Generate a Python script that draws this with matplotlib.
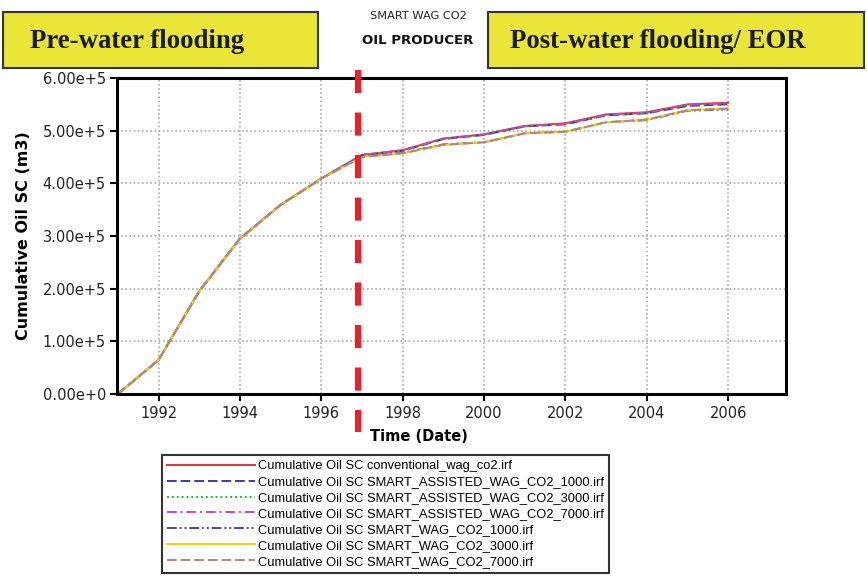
import matplotlib
matplotlib.use("Agg")
import matplotlib.pyplot as plt
from matplotlib.patches import Rectangle

# yearly points (cumulative oil, m3)
years = [1991.0, 1992, 1993, 1994, 1995, 1996, 1997, 1998, 1999, 2000,
         2001, 2002, 2003, 2004, 2005, 2006]

conventional = [0, 0.645e5, 1.95e5, 2.95e5, 3.59e5, 4.09e5, 4.54e5, 4.63e5, 4.85e5, 4.93e5,
                5.09e5, 5.14e5, 5.31e5, 5.35e5, 5.50e5, 5.53e5]
assisted_1000 = [0, 0.645e5, 1.95e5, 2.95e5, 3.59e5, 4.09e5, 4.53e5, 4.62e5, 4.84e5, 4.92e5,
                 5.08e5, 5.12e5, 5.29e5, 5.33e5, 5.47e5, 5.50e5]
assisted_3000 = [0, 0.645e5, 1.95e5, 2.95e5, 3.59e5, 4.09e5, 4.54e5, 4.62e5, 4.85e5, 4.92e5,
                 5.08e5, 5.13e5, 5.30e5, 5.34e5, 5.49e5, 5.52e5]
assisted_7000 = [0, 0.645e5, 1.95e5, 2.95e5, 3.59e5, 4.09e5, 4.54e5, 4.63e5, 4.85e5, 4.93e5,
                 5.09e5, 5.13e5, 5.30e5, 5.34e5, 5.49e5, 5.52e5]
smart_1000 = [0, 0.645e5, 1.95e5, 2.95e5, 3.59e5, 4.09e5, 4.51e5, 4.58e5, 4.74e5, 4.78e5,
              4.95e5, 4.98e5, 5.16e5, 5.20e5, 5.38e5, 5.40e5]
smart_3000 = [0, 0.645e5, 1.95e5, 2.95e5, 3.59e5, 4.09e5, 4.50e5, 4.57e5, 4.73e5, 4.78e5,
              4.95e5, 4.98e5, 5.16e5, 5.21e5, 5.39e5, 5.42e5]
smart_7000 = [0, 0.645e5, 1.95e5, 2.95e5, 3.59e5, 4.09e5, 4.50e5, 4.57e5, 4.73e5, 4.78e5,
              4.95e5, 4.98e5, 5.16e5, 5.21e5, 5.39e5, 5.42e5]

labels = [
    "Cumulative Oil SC conventional_wag_co2.irf",
    "Cumulative Oil SC SMART_ASSISTED_WAG_CO2_1000.irf",
    "Cumulative Oil SC SMART_ASSISTED_WAG_CO2_3000.irf",
    "Cumulative Oil SC SMART_ASSISTED_WAG_CO2_7000.irf",
    "Cumulative Oil SC SMART_WAG_CO2_1000.irf",
    "Cumulative Oil SC SMART_WAG_CO2_3000.irf",
    "Cumulative Oil SC SMART_WAG_CO2_7000.irf",
]
series = [conventional, assisted_1000, assisted_3000, assisted_7000,
          smart_1000, smart_3000, smart_7000]
colors = ["#e8303a", "#3a3aa8", "#30b040", "#c848b8", "#4848a8", "#f2d200", "#b08878"]
styles = ["-", (0, (5, 2)), (0, (1, 1.5)), (0, (5, 2, 1, 2)), (0, (5, 1.5, 1, 1.5, 1, 1.5)),
          "-", (0, (5, 2))]

water_flood_end = 1996.9
x_ticks = [1992, 1994, 1996, 1998, 2000, 2002, 2004, 2006]
y_ticks = [0, 1e5, 2e5, 3e5, 4e5, 5e5, 6e5]
y_tick_labels = ["0.00e+0", "1.00e+5", "2.00e+5", "3.00e+5", "4.00e+5", "5.00e+5", "6.00e+5"]

fig = plt.figure(figsize=(8.67, 5.79), dpi=100)
ax = fig.add_axes([117 / 867, 1 - 394 / 579, 669 / 867, 316 / 579])

handles = []
for ys, c, ls, lab in zip(series, colors, styles, labels):
    h, = ax.plot(years, ys, color=c, linestyle=ls, linewidth=1.4, label=lab)
    handles.append(h)

ax.set_xlim(1990.98, 2007.42)
ax.set_ylim(0, 6e5)
ax.set_xticks(x_ticks)
ax.set_xticklabels([str(t) for t in x_ticks])
ax.set_yticks(y_ticks)
ax.set_yticklabels(y_tick_labels)
ax.tick_params(labelsize=10.5, length=5, width=1.5, colors="black", labelcolor="#222222")
ax.tick_params(axis="y", pad=3)
ax.grid(True, color="#aaaaaa", linestyle=(0, (1, 1.5)), linewidth=1.2)
for s in ax.spines.values():
    s.set_linewidth(2.2)
    s.set_color("black")

# end of water flooding marker, runs past the frame
ax.plot([water_flood_end, water_flood_end], [6.15e5, -0.72e5], color="#e8202a",
        linewidth=4.5, linestyle=(0, (3.7, 3.1)), clip_on=False, zorder=5)

ax.set_ylabel("Cumulative Oil SC (m3)", fontsize=11.5, fontweight="bold", labelpad=8)
ax.text((419 - 117) / 669, -0.135, "Time (Date)", transform=ax.transAxes,
        ha="center", va="center", fontsize=10.5, fontweight="bold")

# header boxes
fig.patches.append(Rectangle((3 / 867, 1 - 68 / 579), 315 / 867, 56 / 579,
                             transform=fig.transFigure, facecolor="#e9e637",
                             edgecolor="#333333", linewidth=1.5))
fig.patches.append(Rectangle((488 / 867, 1 - 68 / 579), 376 / 867, 56 / 579,
                             transform=fig.transFigure, facecolor="#e9e637",
                             edgecolor="#333333", linewidth=1.5))
fig.text(30 / 867, 1 - 41 / 579, "Pre-water flooding", family="Liberation Serif",
         fontweight="bold", fontsize=19.3, ha="left", va="center", color="#1a1a1a")
fig.text(510 / 867, 1 - 41 / 579, "Post-water flooding/ EOR", family="Liberation Serif",
         fontweight="bold", fontsize=19.3, ha="left", va="center", color="#1a1a1a")
fig.text(418 / 867, 1 - 16 / 579, "SMART WAG CO2", fontsize=8.2, ha="center", va="center",
         color="#222222")
fig.text(418 / 867, 1 - 40 / 579, "OIL PRODUCER", fontsize=9.5, fontweight="bold",
         ha="center", va="center", color="#111111")

leg = fig.legend(handles=handles, loc="upper left", bbox_to_anchor=(162 / 867, 1 - 455 / 579),
                 prop={"family": "Liberation Sans", "size": 9.3}, handlelength=6.8,
                 handletextpad=0.2, labelspacing=0.3, borderpad=0.4, frameon=True,
                 fancybox=False, borderaxespad=0)
leg.get_frame().set_edgecolor("black")
leg.get_frame().set_linewidth(1.5)

fig.savefig("out.png", dpi=100)
